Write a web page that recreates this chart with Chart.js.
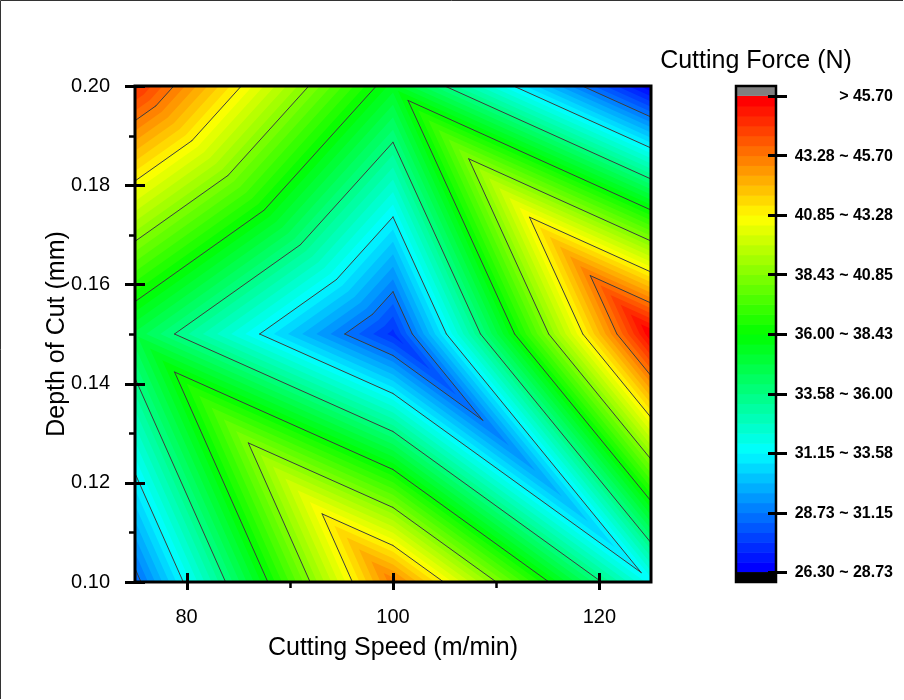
<!DOCTYPE html>
<html>
<head>
<meta charset="utf-8">
<title>Cutting Force Contour</title>
<script src="https://cdn.jsdelivr.net/npm/chart.js@4.4.1/dist/chart.umd.min.js"></script>
<style>
  html, body { margin: 0; padding: 0; background: #ffffff; }
  #wrap { width: 904px; height: 700px; position: relative; }
</style>
</head>
<body>
<div id="wrap"><canvas id="chart" width="904" height="700"></canvas></div>
<script>
// ---- data -------------------------------------------------------------
const speeds = [75, 100, 125];          // cutting speed, m/min
const depths = [0.10, 0.15, 0.20];      // depth of cut, mm
// cutting force (N): one row per depth, columns follow speeds
const forceAtDepth010 = [28.38, 43.18, 31.30];
const forceAtDepth015 = [34.70, 27.35, 45.70];
const forceAtDepth020 = [44.67, 35.40, 26.30];
const forceRows = [forceAtDepth010, forceAtDepth015, forceAtDepth020];

const levelMin = 26.30;
const levelMax = 45.70;
const majorCount = 8;        // labelled intervals on the colour bar
const subPerMajor = 6;       // colour steps inside each labelled interval

const xTicks = [80, 100, 120];
const xMinorTicks = [90, 110];
const yTicks = [0.10, 0.12, 0.14, 0.16, 0.18, 0.20];
const yMinorTicks = [0.11, 0.13, 0.15, 0.17, 0.19];
const bandLabels = [
  '26.30 ~ 28.73', '28.73 ~ 31.15', '31.15 ~ 33.58', '33.58 ~ 36.00',
  '36.00 ~ 38.43', '38.43 ~ 40.85', '40.85 ~ 43.28', '43.28 ~ 45.70', '> 45.70'
];

// ---- derived ----------------------------------------------------------
const FONT = "'Liberation Sans', Arial, Helvetica, sans-serif";
const majorStep = (levelMax - levelMin) / majorCount;
const bandCount = majorCount * subPerMajor;
const bandStep = (levelMax - levelMin) / bandCount;

const rainbowStops = [
  [0.00, [0, 0, 255]],
  [0.25, [0, 255, 255]],
  [0.50, [0, 255, 0]],
  [0.75, [255, 255, 0]],
  [1.00, [255, 0, 0]]
];
function rainbow(f) {
  f = Math.min(1, Math.max(0, f));
  for (let i = 1; i < rainbowStops.length; i++) {
    const [f1, c1] = rainbowStops[i];
    const [f0, c0] = rainbowStops[i - 1];
    if (f <= f1) {
      const t = (f - f0) / (f1 - f0);
      const c = c0.map((v, k) => Math.round(v + t * (c1[k] - v)));
      return `rgb(${c[0]},${c[1]},${c[2]})`;
    }
  }
  return 'rgb(255,0,0)';
}
const bandColor = j => rainbow(j / (bandCount - 1));

// scatter points of the measured grid (used by the contour renderer)
const gridPoints = [];
depths.forEach((d, r) => speeds.forEach((s, c) => {
  gridPoints.push({ x: s, y: d, v: forceRows[r][c] });
}));

// ---- contour rendering helpers ---------------------------------------
function nodeAt(chart, c, r) {
  const xs = chart.scales.x, ys = chart.scales.y;
  return {
    px: xs.getPixelForValue(speeds[c]),
    py: ys.getPixelForValue(depths[r]),
    v: forceRows[r][c]
  };
}
// each grid cell is split along its top-left to bottom-right diagonal
function buildTriangles(chart) {
  const tris = [];
  for (let r = 0; r < depths.length - 1; r++) {
    for (let c = 0; c < speeds.length - 1; c++) {
      const bl = nodeAt(chart, c, r), br = nodeAt(chart, c + 1, r);
      const tl = nodeAt(chart, c, r + 1), tr = nodeAt(chart, c + 1, r + 1);
      tris.push([bl, br, tl]);
      tris.push([tl, br, tr]);
    }
  }
  return tris;
}
function clipAbove(poly, lvl) {
  const out = [];
  for (let k = 0; k < poly.length; k++) {
    const a = poly[k], b = poly[(k + 1) % poly.length];
    const ina = a.v >= lvl, inb = b.v >= lvl;
    if (ina) out.push(a);
    if (ina !== inb) {
      const t = (lvl - a.v) / (b.v - a.v);
      out.push({ px: a.px + t * (b.px - a.px), py: a.py + t * (b.py - a.py), v: lvl });
    }
  }
  return out;
}

const contourPlugin = {
  id: 'contourPlugin',
  beforeDatasetsDraw(chart) {
    const ctx = chart.ctx, area = chart.chartArea;
    const tris = buildTriangles(chart);
    ctx.save();
    ctx.beginPath();
    ctx.rect(area.left, area.top, area.right - area.left, area.bottom - area.top);
    ctx.clip();
    // filled colour bands, painted from the lowest level upwards
    for (let j = 0; j < bandCount; j++) {
      const lo = j === 0 ? -Infinity : levelMin + j * bandStep;
      ctx.beginPath();
      for (const t of tris) {
        const poly = clipAbove(t, lo);
        if (poly.length < 3) continue;
        ctx.moveTo(poly[0].px, poly[0].py);
        for (let k = 1; k < poly.length; k++) ctx.lineTo(poly[k].px, poly[k].py);
        ctx.closePath();
      }
      ctx.fillStyle = bandColor(j);
      ctx.fill();
    }
    // iso-lines at the labelled levels
    ctx.strokeStyle = '#3d3d3d';
    ctx.lineWidth = 1;
    ctx.lineCap = 'round';
    ctx.lineJoin = 'round';
    for (let k = 1; k <= majorCount; k++) {
      const L = levelMin + k * majorStep;
      ctx.beginPath();
      for (const t of tris) {
        const pts = [];
        for (let e = 0; e < 3; e++) {
          const a = t[e], b = t[(e + 1) % 3];
          if ((a.v - L) * (b.v - L) < 0) {
            const s = (L - a.v) / (b.v - a.v);
            pts.push([a.px + s * (b.px - a.px), a.py + s * (b.py - a.py)]);
          }
        }
        if (pts.length === 2) {
          ctx.moveTo(pts[0][0], pts[0][1]);
          ctx.lineTo(pts[1][0], pts[1][1]);
        }
      }
      ctx.stroke();
    }
    ctx.restore();
  },
  afterDraw(chart) {
    const ctx = chart.ctx, area = chart.chartArea;
    const xs = chart.scales.x, ys = chart.scales.y, cb = chart.scales.cb;
    ctx.save();
    ctx.strokeStyle = '#000';
    ctx.lineCap = 'butt';

    // plot frame
    ctx.lineWidth = 3;
    ctx.strokeRect(area.left, area.top, area.right - area.left, area.bottom - area.top);

    // tick marks
    ctx.beginPath();
    xTicks.forEach(v => {
      const px = Math.round(xs.getPixelForValue(v)) + 0.5;
      ctx.moveTo(px, area.bottom - 9); ctx.lineTo(px, area.bottom + 8);
    });
    yTicks.forEach(v => {
      const py = Math.round(ys.getPixelForValue(v)) + 0.5;
      ctx.moveTo(area.left - 10, py); ctx.lineTo(area.left + 10, py);
    });
    ctx.lineWidth = 3;
    ctx.stroke();
    ctx.beginPath();
    xMinorTicks.forEach(v => {
      const px = Math.round(xs.getPixelForValue(v)) + 0.5;
      ctx.moveTo(px, area.bottom); ctx.lineTo(px, area.bottom + 6);
    });
    yMinorTicks.forEach(v => {
      const py = Math.round(ys.getPixelForValue(v)) + 0.5;
      ctx.moveTo(area.left - 6, py); ctx.lineTo(area.left, py);
    });
    ctx.lineWidth = 2.5;
    ctx.stroke();

    // colour bar
    const barL = 736, barR = 776;
    for (let j = 0; j < bandCount; j++) {
      const y0 = cb.getPixelForValue(levelMin + (j + 1) * bandStep);
      const y1 = cb.getPixelForValue(levelMin + j * bandStep);
      ctx.fillStyle = bandColor(j);
      ctx.fillRect(barL, y0, barR - barL, y1 - y0 + 0.6);
    }
    const gTop = cb.getPixelForValue(levelMax + bandStep);
    const gBot = cb.getPixelForValue(levelMax);
    ctx.fillStyle = '#808080';
    ctx.fillRect(barL, gTop, barR - barL, gBot - gTop);
    const kTop = cb.getPixelForValue(levelMin);
    const kBot = cb.getPixelForValue(levelMin - bandStep);
    ctx.fillStyle = '#000';
    ctx.fillRect(barL, kTop, barR - barL, kBot - kTop);
    ctx.lineWidth = 2.5;
    ctx.strokeRect(barL, gTop, barR - barL, kBot - gTop);

    ctx.beginPath();
    for (let k = 0; k <= majorCount; k++) {
      const py = Math.round(cb.getPixelForValue(levelMin + k * majorStep)) + 0.5;
      ctx.moveTo(768, py); ctx.lineTo(787, py);
    }
    ctx.lineWidth = 3;
    ctx.stroke();

    ctx.fillStyle = '#000';
    ctx.font = `bold 16px ${FONT}`;
    ctx.textAlign = 'right';
    ctx.textBaseline = 'middle';
    for (let k = 0; k <= majorCount; k++) {
      const py = cb.getPixelForValue(levelMin + k * majorStep);
      ctx.fillText(bandLabels[k], 893, py + 1);
    }
    ctx.font = `25px ${FONT}`;
    ctx.textAlign = 'center';
    ctx.fillText('Cutting Force (N)', 756, 61);

    // outer picture edge
    ctx.lineWidth = 1;
    ctx.strokeStyle = '#333';
    ctx.beginPath();
    ctx.moveTo(0.5, 699); ctx.lineTo(0.5, 0.5); ctx.lineTo(903, 0.5);
    ctx.stroke();
    ctx.restore();
  }
};

// ---- chart ------------------------------------------------------------
new Chart(document.getElementById('chart'), {
  type: 'scatter',
  data: {
    datasets: [{
      label: 'Cutting Force (N)',
      data: gridPoints,
      pointRadius: 0,
      pointHoverRadius: 0,
      showLine: false
    }]
  },
  options: {
    responsive: false,
    animation: false,
    events: [],
    layout: { padding: { top: 86, right: 253, left: 0, bottom: 0 } },
    plugins: { legend: { display: false }, tooltip: { enabled: false } },
    scales: {
      x: {
        type: 'linear', position: 'bottom', min: 75, max: 125,
        afterBuildTicks: s => { s.ticks = xTicks.map(v => ({ value: v })); },
        afterFit: s => { s.height = 118; },
        grid: { display: false }, border: { display: false },
        ticks: {
          padding: 15, color: '#000', autoSkip: false, maxRotation: 0,
          font: { family: FONT, size: 20 },
          callback: v => String(v)
        },
        title: {
          display: true, text: 'Cutting Speed (m/min)', color: '#000',
          font: { family: FONT, size: 25 }, padding: { top: 0, bottom: 37 }
        }
      },
      y: {
        type: 'linear', position: 'left', min: 0.10, max: 0.20,
        afterBuildTicks: s => { s.ticks = yTicks.map(v => ({ value: v })); },
        afterFit: s => { s.width = 135; },
        grid: { display: false }, border: { display: false },
        ticks: {
          padding: 17, color: '#000', autoSkip: false,
          font: { family: FONT, size: 20 },
          callback: v => Number(v).toFixed(2)
        },
        title: {
          display: true, text: 'Depth of Cut (mm)', color: '#000',
          font: { family: FONT, size: 25 }, padding: { top: 42, bottom: 0 }
        }
      },
      cb: {
        type: 'linear', axis: 'y', position: 'right', display: false,
        min: levelMin - bandStep, max: levelMax + bandStep
      }
    }
  },
  plugins: [contourPlugin]
});
</script>
</body>
</html>
